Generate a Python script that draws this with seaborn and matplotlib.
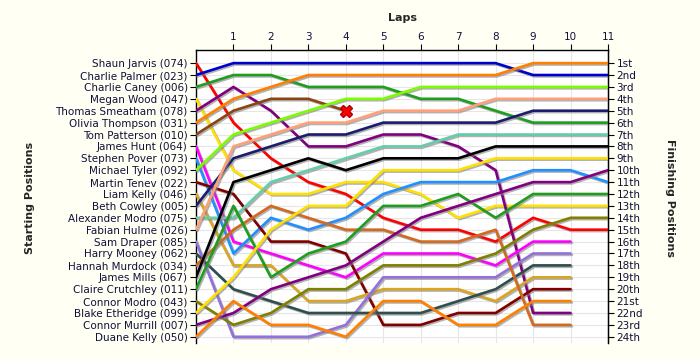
import numpy as np
import pandas as pd
import matplotlib
matplotlib.use("Agg")
import matplotlib.pyplot as plt
import matplotlib.patheffects as pe
import seaborn as sns

# drivers in starting order
drivers = ["Shaun Jarvis (074)", "Charlie Palmer (023)", "Charlie Caney (006)", "Megan Wood (047)",
           "Thomas Smeatham (078)", "Olivia Thompson (031)", "Tom Patterson (010)", "James Hunt (064)",
           "Stephen Pover (073)", "Michael Tyler (092)", "Martin Tenev (022)", "Liam Kelly (046)",
           "Beth Cowley (005)", "Alexander Modro (075)", "Fabian Hulme (026)", "Sam Draper (085)",
           "Harry Mooney (062)", "Hannah Murdock (034)", "James Mills (067)", "Claire Crutchley (011)",
           "Connor Modro (043)", "Blake Etheridge (099)", "Connor Murrill (007)", "Duane Kelly (050)"]

colors = ["#ff0000", "#0000cd", "#1f9d1f", "#ffe000", "#800080", "#ff8000", "#8b4513", "#ff00ff",
          "#1e90ff", "#7cfc00", "#800000", "#daa520", "#1c1c6e", "#66cdaa", "#ffa07a", "#9370db",
          "#2f4f4f", "#d2691e", "#000000", "#1f9d1f", "#808000", "#ffe000", "#800080", "#ff8000"]

laps = list(range(12))

# position at lap 0..11 (None = not running)
jarvis = [1, 6, 9, 11, 12, 14, 15, 15, 16, 14, 15, 15]
palmer = [2, 1, 1, 1, 1, 1, 1, 1, 1, 2, 2, 2]
caney = [3, 2, 2, 3, 3, 3, 4, 4, 5, 6, 6, 6]
wood = [4, 10, 12, 12, 11, 11, 12, 14, 13, 13, 13, 13]
smeatham = [5, 3, 5, 8, 8, 7, 7, 8, 10, 22, 22, None]
thompson = [6, 4, 3, 2, 2, 2, 2, 2, 2, 1, 1, 1]
patterson = [7, 5, 4, 4, 5, None, None, None, None, None, None, None]
hunt = [8, 16, 17, 18, 19, 17, 17, 17, 18, 16, 16, None]
pover = [9, 17, 14, 15, 14, 12, 11, 11, 11, 10, 10, 11]
tyler = [10, 7, 6, 5, 4, 4, 3, 3, 3, 3, 3, 3]
tenev = [11, 12, 16, 16, 17, 23, 23, 22, 22, 20, 20, None]
l_kelly = [12, 18, 18, 21, 21, 20, 20, 20, 21, 19, 19, None]
cowley = [13, 9, 8, 7, 7, 6, 6, 6, 6, 5, 5, 5]
a_modro = [14, 14, 11, 10, 9, 8, 8, 7, 7, 7, 7, 7]
hulme = [15, 8, 7, 6, 6, 5, 5, 5, 4, 4, 4, 4]
draper = [16, 24, 24, 24, 23, 19, 19, 19, 19, 17, 17, None]
mooney = [17, 20, 21, 22, 22, 22, 22, 21, 20, 18, 18, None]
murdock = [18, 15, 13, 14, 15, 15, 16, 16, 15, 23, 23, None]
mills = [19, 11, 10, 9, 10, 9, 9, 9, 8, 8, 8, 8]
crutchley = [20, 13, 19, 17, 16, 13, 13, 12, 14, 12, 12, 12]
c_modro = [21, 23, 22, 20, 20, 18, 18, 18, 17, 15, 14, 14]
etheridge = [22, 19, 15, 13, 13, 10, 10, 10, 9, 9, 9, 9]
murrill = [23, 22, 20, 19, 18, 16, 14, 13, 12, 11, 11, 10]
d_kelly = [24, 21, 23, 23, 24, 21, 21, 23, 23, 21, 21, None]

# retirement marker
retired_lap = 4
retired_pos = 5

series = [jarvis, palmer, caney, wood, smeatham, thompson, patterson, hunt, pover, tyler,
          tenev, l_kelly, cowley, a_modro, hulme, draper, mooney, murdock, mills, crutchley,
          c_modro, etheridge, murrill, d_kelly]

rows = []
for name, pos in zip(drivers, series):
    for lap, p in zip(laps, pos):
        if p is not None:
            rows.append({"driver": name, "lap": lap, "pos": p})
df = pd.DataFrame(rows)

ordinals = []
for n in range(1, 25):
    suf = "th"
    if n % 10 == 1 and n != 11:
        suf = "st"
    elif n % 10 == 2 and n != 12:
        suf = "nd"
    elif n % 10 == 3 and n != 13:
        suf = "rd"
    ordinals.append(f"{n}{suf}")

sns.set_style("white")
plt.rcParams["font.family"] = ["DejaVu Sans"]

fig = plt.figure(figsize=(7, 3.6), dpi=100, facecolor="#fffff4")
ax = fig.add_axes([0.28, 0.048, 0.5886, 0.813])
ax.set_facecolor("white")

# grid
for p in range(1, 25):
    ax.axhline(p, color="#e6e6e6", lw=0.8, zorder=0)
for l in range(1, 11):
    ax.axvline(l, color="#e6e6e6", lw=0.8, zorder=0)

shadow = [pe.SimpleLineShadow(offset=(1.0, -1.0), shadow_color="#808080", alpha=0.6), pe.Normal()]
sns.lineplot(data=df, x="lap", y="pos", hue="driver", hue_order=drivers, palette=colors,
             sort=False, legend=False, lw=1.9, ax=ax, path_effects=shadow, zorder=3)

ax.plot(retired_lap, retired_pos, marker="X", color="#ff0000", markeredgecolor="#b00000",
        markersize=8, zorder=5, linestyle="none")

ax.set_xlim(0, 11)
ax.set_ylim(24.5, -0.1)
ax.xaxis.tick_top()
ax.xaxis.set_label_position("top")
ax.set_xticks(range(1, 12))
ax.set_xlabel("Laps", fontsize=8, fontweight="bold", labelpad=8)
ax.set_ylabel("")
ax.set_yticks(range(1, 25))
ax.set_yticklabels(drivers)
ax.tick_params(axis="both", labelsize=7.5, length=4, width=0.8, color="black", direction="out",
               pad=2, left=True, top=True, labelcolor="#10103a")
for s in ["left", "right", "top"]:
    ax.spines[s].set_color("black")
    ax.spines[s].set_linewidth(1)
ax.spines["bottom"].set_visible(False)

ax2 = ax.twinx()
ax2.set_ylim(ax.get_ylim())
ax2.set_yticks(range(1, 25))
ax2.set_yticklabels(ordinals)
ax2.tick_params(axis="y", labelsize=7.5, length=4, width=0.8, color="black", direction="out",
                pad=2, right=True, labelcolor="#10103a")
for s in ["left", "top", "bottom"]:
    ax2.spines[s].set_visible(False)
ax2.spines["right"].set_color("black")

fig.text(0.043, 0.45, "Starting Positions", rotation=90, ha="center", va="center",
         fontsize=8, fontweight="bold")
fig.text(0.957, 0.45, "Finishing Positions", rotation=270, ha="center", va="center",
         fontsize=8, fontweight="bold")

fig.savefig("out.png", dpi=100, facecolor=fig.get_facecolor())
